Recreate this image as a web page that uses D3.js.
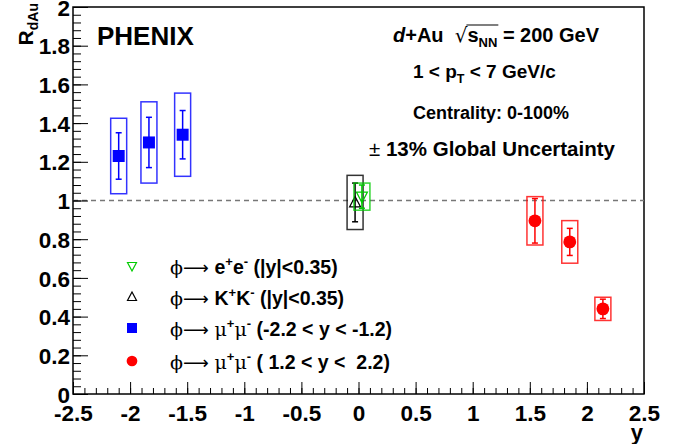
<!DOCTYPE html>
<html><head><meta charset="utf-8">
<script src="https://cdn.jsdelivr.net/npm/d3@7"></script>
<style>
body{margin:0;background:#fff;}
text{font-family:"Liberation Sans",Arial,sans-serif;font-weight:bold;}
</style></head>
<body><svg id="c" width="693" height="444"></svg>
<script>
// ---- data ----
const muNegY   = [-2.10, -1.835, -1.54];
const muNegR   = [1.23, 1.30, 1.34];
const muNegStat= [0.12, 0.13, 0.125];
const muNegSys = [0.195, 0.21, 0.215];

const muPosY   = [1.545, 1.85, 2.14];
const muPosR   = [0.895, 0.786, 0.44];
const muPosStat= [0.115, 0.07, 0.05];
const muPosSys = [0.125, 0.11, 0.06];

const kkY = [-0.03], kkR = [0.99], kkStat = [0.10], kkSys = [0.14];
const eeY = [0.03],  eeR = [1.02], eeStat = [0.06], eeSys = [0.07];

const xTicks = [-2.5,-2,-1.5,-1,-0.5,0,0.5,1,1.5,2,2.5];
const yTicks = [0,0.2,0.4,0.6,0.8,1,1.2,1.4,1.6,1.8,2];
const boxHalfWidth = 0.07;

const svg = d3.select("#c");
const x = d3.scaleLinear().domain([-2.5,2.5]).range([73,644]);
const y = d3.scaleLinear().domain([0,2]).range([394,7]);
const fmt = d=>String(d);

// frame
svg.append("rect").attr("x",73).attr("y",7).attr("width",644-73).attr("height",394-7)
  .attr("fill","none").attr("stroke","#000").attr("stroke-width",1.5);

// dashed line at 1
svg.append("line").attr("x1",x(-2.5)).attr("x2",x(2.5)).attr("y1",y(1)).attr("y2",y(1))
  .attr("stroke","#777").attr("stroke-width",1.5).attr("stroke-dasharray","5,4");

// axes
const xMinor = d3.range(-2.5,2.5001,0.1);
const yMinor = d3.range(0,2.0001,0.04);
const xa = svg.append("g").attr("transform","translate(0,394)")
  .call(d3.axisBottom(x).tickValues(xMinor).tickSize(-6).tickFormat(""));
const xa2 = svg.append("g").attr("transform","translate(0,394)")
  .call(d3.axisBottom(x).tickValues(xTicks).tickSize(-12).tickPadding(18).tickFormat(fmt));
[xa,xa2].forEach(g=>{g.select(".domain").remove(); g.selectAll("line").attr("stroke","#000");});
xa2.selectAll("text").attr("font-size",22.5).attr("fill","#000").attr("dy","0.42em");

const ya = svg.append("g").attr("transform","translate(73,0)")
  .call(d3.axisLeft(y).tickValues(yMinor).tickSize(-8).tickFormat(""));
const ya2 = svg.append("g").attr("transform","translate(73,0)")
  .call(d3.axisLeft(y).tickValues(yTicks).tickSize(-15).tickPadding(3).tickFormat(fmt));
[ya,ya2].forEach(g=>{g.select(".domain").remove(); g.selectAll("line").attr("stroke","#000");});
ya2.selectAll("text").attr("font-size",22.5).attr("fill","#000").attr("dy","0.36em");

// axis titles
svg.append("text").attr("x",643).attr("y",440).attr("text-anchor","end").attr("font-size",22).text("y");
const yt = svg.append("text").attr("transform","translate(33,3) rotate(-90)").attr("text-anchor","end").attr("font-size",21);
yt.append("tspan").text("R");
yt.append("tspan").attr("font-size",14).attr("dy",5).text("dAu");

// series drawing
function drawSeries(xs, rs, stat, sys, color, marker){
  const g = svg.append("g");
  const d = xs.map((v,i)=>({x:v,r:rs[i],st:stat[i],sy:sys[i]}));
  g.selectAll("rect.sys").data(d).join("rect")
    .attr("x",e=>x(e.x-boxHalfWidth)).attr("width",e=>x(e.x+boxHalfWidth)-x(e.x-boxHalfWidth))
    .attr("y",e=>y(e.r+e.sy)).attr("height",e=>y(e.r-e.sy)-y(e.r+e.sy))
    .attr("fill","none").attr("stroke",color).attr("stroke-width",1.5).attr("stroke-opacity",0.8);
  g.selectAll("line.v").data(d).join("line")
    .attr("x1",e=>x(e.x)).attr("x2",e=>x(e.x)).attr("y1",e=>y(e.r+e.st)).attr("y2",e=>y(e.r-e.st))
    .attr("stroke",color).attr("stroke-width",1.5);
  [1,-1].forEach(s=>{
    g.selectAll("line.c"+s).data(d).join("line")
      .attr("x1",e=>x(e.x)-3).attr("x2",e=>x(e.x)+3)
      .attr("y1",e=>y(e.r+s*e.st)).attr("y2",e=>y(e.r+s*e.st))
      .attr("stroke",color).attr("stroke-width",1.5);
  });
  g.selectAll("path.m").data(d).join("path")
    .attr("transform",e=>`translate(${x(e.x)},${y(e.r)})`)
    .attr("d",marker.path).attr("fill",marker.fill).attr("stroke",color).attr("stroke-width",marker.sw);
}
const sqPath = "M-6,-6H6V6H-6Z";
const circPath = d3.symbol(d3.symbolCircle,130)();
const triUp = "M0,-6L5.5,4.5H-5.5Z";
const triDn = "M0,6L5.5,-4.5H-5.5Z";
drawSeries(muNegY,muNegR,muNegStat,muNegSys,"#0000ff",{path:sqPath,fill:"#0000ff",sw:0});
drawSeries(muPosY,muPosR,muPosStat,muPosSys,"#ff0000",{path:circPath,fill:"#ff0000",sw:0});
drawSeries(kkY,kkR,kkStat,kkSys,"#000000",{path:triUp,fill:"none",sw:1.2});
drawSeries(eeY,eeR,eeStat,eeSys,"#00cc00",{path:triDn,fill:"none",sw:1.2});

// top-left label
svg.append("text").attr("x",97).attr("y",45).attr("font-size",26).text("PHENIX");

// info text
const t1 = svg.append("text").attr("x",393).attr("y",42).attr("font-size",20).attr("xml:space","preserve");
t1.append("tspan").attr("font-style","italic").text("d");
t1.append("tspan").text("+Au  ");
t1.append("tspan").attr("font-weight","normal").attr("font-family","DejaVu Sans").attr("font-size",20).text("√");
t1.append("tspan").text("s");
t1.append("tspan").attr("font-size",13).attr("dy",5).text("NN");
t1.append("tspan").attr("dy",-5).text(" = 200 GeV");
// overline over s_NN
(function(){
  const node = t1.node();
  const txt = node.textContent;
  const si = txt.indexOf("s");
  const p1 = node.getEndPositionOfChar(si+2);
  const sq = node.getEndPositionOfChar(si-1);
  svg.append("line").attr("x1",sq.x-1).attr("x2",p1.x+1).attr("y1",25).attr("y2",25)
    .attr("stroke","#000").attr("stroke-width",1.2);
})();

const t2 = svg.append("text").attr("x",413).attr("y",78).attr("font-size",19).attr("xml:space","preserve");
t2.append("tspan").text("1 < p");
t2.append("tspan").attr("font-size",12.5).attr("dy",5).text("T");
t2.append("tspan").attr("dy",-5).text(" < 7 GeV/c");

svg.append("text").attr("x",413).attr("y",119).attr("font-size",18).text("Centrality: 0-100%");
const t4 = svg.append("text").attr("x",369).attr("y",156).attr("font-size",20.5).attr("xml:space","preserve");
t4.append("tspan").attr("font-weight","normal").text("±");
t4.append("tspan").text(" 13% Global Uncertainty");

// legend
const legMarkers = [
  {path:"M0,5L4.5,-3.5H-4.5Z", fill:"none", color:"#00cc00", sw:1.2},
  {path:"M0,-5L4.5,3.5H-4.5Z", fill:"none", color:"#000", sw:1.2},
  {path:"M-5,-5H5V5H-5Z", fill:"#0000ff", color:"#0000ff", sw:0},
  {path:d3.symbol(d3.symbolCircle,90)(), fill:"#ff0000", color:"#ff0000", sw:0}
];
const legRows = [
  [["e","b"],["+","sup"],["e","b"],["-","sup"],[" (|y|<0.35)","b"]],
  [["K","b"],["+","sup"],["K","b"],["-","sup"],[" (|y|<0.35)","b"]],
  [["μ","sym"],["+","sup"],["μ","sym"],["-","sup"],[" (-2.2 < y < -1.2)","b"]],
  [["μ","sym"],["+","sup"],["μ","sym"],["-","sup"],[" ( 1.2 < y <  2.2)","b"]]
];
const legY = [266, 297, 328, 361];
legRows.forEach((row,i)=>{
  const m = legMarkers[i];
  svg.append("path").attr("transform",`translate(132,${legY[i]})`).attr("d",m.path)
    .attr("fill",m.fill).attr("stroke",m.color).attr("stroke-width",m.sw);
  const t = svg.append("text").attr("x",170).attr("y",legY[i]+8).attr("font-size",19.5).attr("xml:space","preserve");
  t.append("tspan").attr("font-weight","normal").attr("font-family","DejaVu Serif").attr("font-size",19).text("ϕ");
  t.append("tspan").attr("font-weight","normal").attr("font-family","DejaVu Sans").attr("font-size",18).text("⟶ ");
  let raised=false;
  row.forEach(([s,k])=>{
    const ts = t.append("tspan").text(s);
    if(k==="sym"){ts.attr("font-weight","normal").attr("font-family","DejaVu Serif").attr("font-size",19);}
    if(k==="sup"){ts.attr("font-size",13).attr("dy",-8); raised=true;}
    else if(raised){ts.attr("dy",8); raised=false;}
  });
});
</script></body></html>
